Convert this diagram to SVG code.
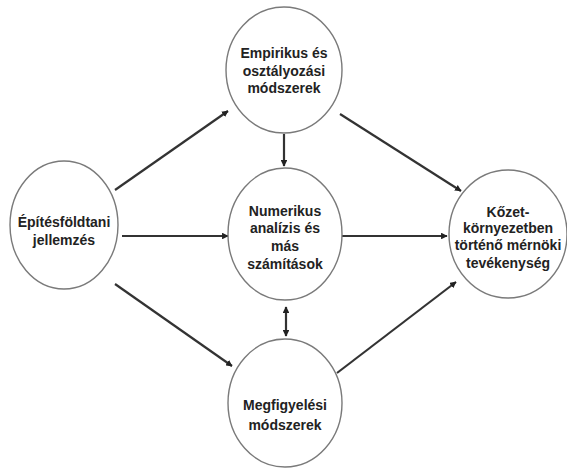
<svg xmlns="http://www.w3.org/2000/svg" width="567" height="470" viewBox="0 0 567 470">
<style>
.n ellipse{fill:#fff;stroke:#7a7a7a;stroke-width:1.4}
.n text{font-family:"Liberation Sans",Arial,sans-serif;font-weight:bold;font-size:14px;fill:#222;text-anchor:middle}
.c line{stroke:#333;stroke-width:2.2;fill:none}
</style>
<defs>
<marker id="ah" viewBox="0 0 10 10" refX="9" refY="5" markerWidth="3" markerHeight="3" orient="auto-start-reverse">
<path d="M0,0 L10,5 L0,10 z" fill="#222"/>
</marker>
</defs>
<rect width="567" height="470" fill="#fff"/>
<g id="connectors" class="c">
<line x1="115" y1="190" x2="228" y2="111" marker-end="url(#ah)"/>
<line x1="340" y1="114" x2="461" y2="191" marker-end="url(#ah)"/>
<line x1="284" y1="134" x2="284" y2="166" marker-end="url(#ah)"/>
<line x1="122" y1="236" x2="228" y2="236" marker-end="url(#ah)"/>
<line x1="342" y1="236" x2="447" y2="236" marker-end="url(#ah)"/>
<line x1="286" y1="307" x2="286" y2="336" marker-start="url(#ah)" marker-end="url(#ah)"/>
<line x1="115" y1="284" x2="232" y2="366" marker-end="url(#ah)"/>
<line x1="337" y1="373" x2="456" y2="282" marker-end="url(#ah)"/>
</g>
<g id="n-empirikus" class="n">
<ellipse cx="284" cy="70" rx="58" ry="63"/>
<text x="284" y="58">Empirikus és</text>
<text x="284" y="76">osztályozási</text>
<text x="284" y="93">módszerek</text>
</g>
<g id="n-epitesfoldtani" class="n">
<ellipse cx="64" cy="225" rx="54" ry="64"/>
<text x="64" y="227">Építésföldtani</text>
<text x="64" y="245">jellemzés</text>
</g>
<g id="n-numerikus" class="n">
<ellipse cx="285" cy="234" rx="57" ry="66"/>
<text x="285" y="216">Numerikus</text>
<text x="285" y="233">analízis és</text>
<text x="285" y="251">más</text>
<text x="285" y="269">számítások</text>
</g>
<g id="n-kozet" class="n">
<ellipse cx="508" cy="234" rx="59" ry="64"/>
<text x="508" y="217">Kőzet-</text>
<text x="508" y="233">környezetben</text>
<text x="508" y="250">történő mérnöki</text>
<text x="508" y="268">tevékenység</text>
</g>
<g id="n-megfigyelesi" class="n">
<ellipse cx="285" cy="403" rx="57" ry="64"/>
<text x="285" y="410">Megfigyelési</text>
<text x="285" y="430">módszerek</text>
</g>
</svg>
